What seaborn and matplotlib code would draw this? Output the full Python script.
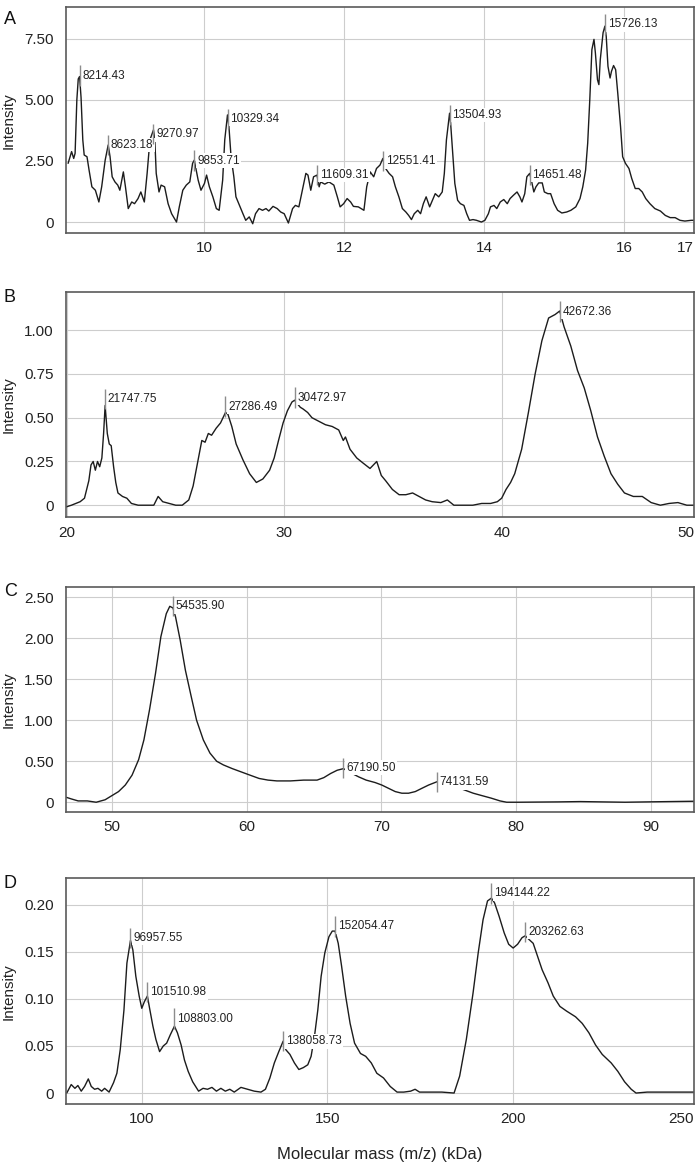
import matplotlib
matplotlib.use('Agg')
import matplotlib.pyplot as plt
import pandas as pd
import seaborn as sns

# ---- panel A : 8-17 kDa ----
A_mass = [8.05, 8.10, 8.13, 8.15, 8.175, 8.195, 8.214, 8.235, 8.26, 8.28,
          8.32, 8.35, 8.39, 8.44, 8.49, 8.53, 8.58, 8.623, 8.65, 8.68,
          8.72, 8.76, 8.79, 8.84, 8.87, 8.91, 8.96, 9.00, 9.05, 9.09,
          9.14, 9.18, 9.22, 9.271, 9.29, 9.31, 9.35, 9.38, 9.43, 9.48,
          9.53, 9.60, 9.64, 9.69, 9.74, 9.79, 9.83, 9.854, 9.91, 9.95,
          10.0, 10.03, 10.07, 10.12, 10.17, 10.21, 10.26, 10.29, 10.329, 10.35,
          10.38, 10.42, 10.45, 10.50, 10.55, 10.59, 10.64, 10.69, 10.73, 10.78,
          10.83, 10.88, 10.92, 10.98, 11.04, 11.09, 11.14, 11.20, 11.26, 11.30,
          11.35, 11.40, 11.45, 11.48, 11.52, 11.56, 11.609, 11.64, 11.66, 11.72,
          11.78, 11.85, 11.90, 11.94, 11.99, 12.04, 12.09, 12.13, 12.20, 12.28,
          12.32, 12.37, 12.42, 12.46, 12.51, 12.551, 12.59, 12.64, 12.69, 12.73,
          12.78, 12.83, 12.88, 12.92, 12.96, 13.00, 13.05, 13.09, 13.13, 13.17,
          13.22, 13.27, 13.30, 13.35, 13.40, 13.43, 13.46, 13.505, 13.52, 13.55,
          13.58, 13.62, 13.66, 13.71, 13.75, 13.79, 13.84, 13.89, 13.96, 14.01,
          14.06, 14.09, 14.14, 14.18, 14.23, 14.28, 14.33, 14.37, 14.42, 14.47,
          14.51, 14.54, 14.58, 14.61, 14.651, 14.68, 14.71, 14.74, 14.78, 14.83,
          14.86, 14.91, 14.95, 15.00, 15.05, 15.11, 15.18, 15.24, 15.31, 15.37,
          15.41, 15.45, 15.48, 15.51, 15.54, 15.57, 15.59, 15.62, 15.64, 15.66,
          15.70, 15.726, 15.745, 15.77, 15.80, 15.82, 15.85, 15.88, 15.91, 15.95,
          15.98, 16.02, 16.07, 16.11, 16.16, 16.21, 16.26, 16.31, 16.37, 16.44,
          16.52, 16.59, 16.66, 16.73, 16.80, 16.87, 16.96, 17.0]
A_int = [2.40, 2.88, 2.60, 2.81, 5.00, 5.85, 5.95, 5.10, 3.36, 2.74,
         2.67, 2.12, 1.44, 1.30, 0.82, 1.44, 2.53, 3.15, 2.67, 1.85,
         1.64, 1.51, 1.30, 2.05, 1.44, 0.55, 0.82, 0.75, 0.96, 1.23,
         0.82, 1.99, 3.36, 3.77, 3.36, 1.99, 1.23, 1.51, 1.44, 0.75,
         0.34, 0.00, 0.62, 1.30, 1.51, 1.64, 2.40, 2.53, 1.71, 1.30,
         1.58, 1.92, 1.44, 1.03, 0.55, 0.48, 1.71, 3.36, 4.38, 3.90,
         2.67, 1.85, 1.03, 0.68, 0.34, 0.07, 0.21, -0.07, 0.34, 0.55,
         0.48, 0.55, 0.45, 0.64, 0.55, 0.41, 0.34, -0.04, 0.55, 0.68,
         0.62, 1.30, 1.99, 1.92, 1.30, 1.85, 1.92, 1.44, 1.64, 1.55,
         1.64, 1.51, 1.03, 0.62, 0.75, 0.96, 0.82, 0.64, 0.62, 0.48,
         1.44, 2.05, 1.85, 2.19, 2.33, 2.60, 2.19, 1.99, 1.85, 1.44,
         1.03, 0.55, 0.41, 0.27, 0.10, 0.34, 0.48, 0.34, 0.75, 1.03,
         0.62, 0.96, 1.16, 1.03, 1.23, 1.99, 3.36, 4.45, 4.04, 2.81,
         1.58, 0.89, 0.75, 0.68, 0.34, 0.07, 0.10, 0.07, 0.00, 0.07,
         0.34, 0.62, 0.68, 0.55, 0.82, 0.92, 0.75, 0.96, 1.10, 1.23,
         1.03, 0.82, 1.16, 1.85, 1.99, 1.64, 1.23, 1.44, 1.60, 1.60,
         1.23, 1.16, 1.16, 0.75, 0.48, 0.37, 0.41, 0.48, 0.62, 0.96,
         1.44, 2.12, 3.22, 5.00, 7.05, 7.47, 6.92, 5.82, 5.62, 6.64,
         7.74, 8.01, 7.60, 6.37, 5.89, 6.16, 6.40, 6.23, 5.27, 3.90,
         2.67, 2.40, 2.19, 1.78, 1.37, 1.37, 1.23, 0.96, 0.75, 0.55,
         0.45, 0.27, 0.18, 0.18, 0.07, 0.04, 0.07, 0.07]
A_peaks = [8214.43, 8623.18, 9270.97, 9853.71, 10329.34, 11609.31, 12551.41, 13504.93, 14651.48, 15726.13]
A_label_y = [5.99, 3.15, 3.59, 2.51, 4.22, 1.92, 2.49, 4.38, 1.92, 8.08]
A_xticks = [10, 12, 14, 16]
A_xticklabels = ['10', '12', '14', '16', '17']
A_yticks = [0, 2.5, 5, 7.5]
A_yticklabels = ['0', '2.50', '5.00', '7.50']

# ---- panel B : 20-50 kDa ----
B_mass = [19.95, 20.2, 20.4, 20.6, 20.8, 20.9, 21.0, 21.1, 21.2, 21.3,
          21.4, 21.5, 21.6, 21.68, 21.75, 21.85, 21.94, 22.03, 22.14, 22.24,
          22.34, 22.55, 22.75, 22.96, 23.27, 23.68, 23.99, 24.19, 24.4, 24.7,
          25.0, 25.3, 25.6, 25.8, 26.0, 26.2, 26.35, 26.5, 26.65, 26.86,
          27.06, 27.29, 27.4, 27.58, 27.78, 28.09, 28.4, 28.71, 29.01, 29.32,
          29.53, 29.73, 29.94, 30.14, 30.35, 30.47, 30.6, 30.73, 30.86, 31.07,
          31.27, 31.58, 31.89, 32.2, 32.5, 32.71, 32.81, 33.02, 33.33, 33.63,
          33.94, 34.25, 34.46, 34.66, 34.97, 35.28, 35.59, 35.9, 36.2, 36.5,
          36.8, 37.2, 37.5, 37.8, 38.25, 38.67, 39.08, 39.49, 39.8, 40.0,
          40.2, 40.41, 40.6, 40.92, 41.23, 41.54, 41.85, 42.16, 42.46, 42.67,
          42.87, 43.18, 43.49, 43.8, 44.1, 44.41, 44.72, 45.03, 45.34, 45.65,
          46.06, 46.47, 46.88, 47.3, 47.7, 48.11, 48.52, 48.85]
B_int = [-0.01, 0.0, 0.01, 0.02, 0.04, 0.09, 0.14, 0.23, 0.25, 0.20,
         0.25, 0.22, 0.27, 0.41, 0.57, 0.41, 0.35, 0.34, 0.22, 0.13,
         0.07, 0.05, 0.04, 0.01, 0.0, 0.0, 0.0, 0.05, 0.02, 0.01,
         0.0, 0.0, 0.03, 0.11, 0.24, 0.37, 0.36, 0.41, 0.40, 0.44,
         0.47, 0.53, 0.52, 0.45, 0.35, 0.26, 0.18, 0.13, 0.15, 0.20,
         0.27, 0.37, 0.47, 0.54, 0.59, 0.60, 0.58, 0.56, 0.55, 0.53,
         0.50, 0.48, 0.46, 0.45, 0.43, 0.37, 0.39, 0.32, 0.27, 0.24,
         0.21, 0.25, 0.17, 0.14, 0.09, 0.06, 0.06, 0.07, 0.05, 0.03,
         0.02, 0.015, 0.03, 0.0, 0.0, 0.0, 0.01, 0.01, 0.02, 0.04,
         0.09, 0.13, 0.18, 0.32, 0.53, 0.75, 0.94, 1.07, 1.09, 1.11,
         1.02, 0.91, 0.77, 0.67, 0.54, 0.39, 0.28, 0.18, 0.12, 0.07,
         0.05, 0.05, 0.015, 0.0, 0.01, 0.015, 0.0, 0.0]
B_peaks = [21747.75, 27286.49, 30472.97, 42672.36]
B_label_y = [0.606, 0.564, 0.615, 1.107]
B_xticks = [20, 30, 40]
B_xticklabels = ['20', '30', '40', '50']
B_yticks = [0, 0.25, 0.5, 0.75, 1.0]
B_yticklabels = ['0', '0.25', '0.50', '0.75', '1.00']

# ---- panel C : 47-93 kDa ----
C_mass = [46.62, 47.0, 47.5, 48.18, 48.84, 49.5, 50.0, 50.5, 51.0, 51.5,
          51.99, 52.38, 52.8, 53.24, 53.64, 54.04, 54.3, 54.54, 54.73, 55.07,
          55.46, 55.89, 56.29, 56.79, 57.28, 57.78, 58.28, 58.94, 59.6, 60.26,
          60.93, 61.59, 62.25, 63.25, 64.24, 65.23, 65.73, 66.23, 66.72, 67.19,
          67.6, 68.31, 68.87, 69.54, 70.03, 70.53, 71.03, 71.52, 72.02, 72.52,
          73.01, 73.51, 74.13, 74.8, 75.5, 76.16, 76.82, 77.48, 78.15, 78.81,
          79.3, 80.13, 83.1, 84.77, 86.4, 88.08, 89.7, 91.4, 93.2]
C_int = [0.06, 0.04, 0.016, 0.016, 0.0, 0.03, 0.08, 0.13, 0.21, 0.33,
         0.52, 0.76, 1.13, 1.57, 2.02, 2.30, 2.39, 2.37, 2.26, 1.98,
         1.61, 1.29, 1.00, 0.76, 0.60, 0.50, 0.455, 0.41, 0.37, 0.33,
         0.29, 0.27, 0.26, 0.26, 0.27, 0.27, 0.30, 0.35, 0.39, 0.41,
         0.37, 0.31, 0.27, 0.24, 0.21, 0.17, 0.13, 0.11, 0.11, 0.13,
         0.17, 0.21, 0.25, 0.22, 0.19, 0.15, 0.11, 0.08, 0.05, 0.016,
         0.0, 0.0, 0.004, 0.008, 0.004, 0.0, 0.004, 0.008, 0.012]
C_peaks = [54535.90, 67190.50, 74131.59]
C_label_y = [2.39, 0.42, 0.244]
C_xticks = [50, 60, 70, 80, 90]
C_xticklabels = ['50', '60', '70', '80', '90']
C_yticks = [0, 0.5, 1.0, 1.5, 2.0, 2.5]
C_yticklabels = ['0', '0.50', '1.00', '1.50', '2.00', '2.50']

# ---- panel D : 80-250 kDa ----
D_mass = [79.8, 81.0, 82.0, 82.8, 83.7, 84.6, 85.6, 86.4, 87.3, 88.2,
          89.2, 90.0, 91.2, 92.4, 93.3, 94.2, 95.2, 96.0, 96.96, 97.6,
          98.4, 99.3, 100.0, 100.7, 101.51, 102.2, 103.0, 103.8, 104.8, 105.8,
          106.7, 107.7, 108.8, 109.6, 110.6, 111.5, 112.5, 113.7, 115.3, 116.5,
          117.7, 118.9, 120.1, 121.3, 122.5, 123.7, 124.9, 126.7, 128.5, 130.3,
          132.1, 133.3, 134.5, 135.7, 136.9, 138.06, 138.8, 139.9, 141.1, 142.3,
          143.5, 144.7, 145.6, 146.5, 147.4, 148.3, 149.3, 150.4, 151.3, 152.05,
          152.9, 153.8, 154.9, 156.1, 157.3, 158.9, 160.3, 161.8, 163.3, 165.1,
          166.9, 168.75, 170.55, 172.4, 173.6, 174.8, 177.2, 180.8, 184.1, 185.6,
          187.4, 189.2, 190.6, 191.9, 193.1, 194.14, 195.0, 196.2, 197.6, 198.8,
          200.0, 201.2, 202.4, 203.26, 204.3, 205.4, 206.6, 207.8, 209.4, 210.8,
          212.6, 214.4, 216.8, 218.6, 220.4, 222.2, 224.0, 226.4, 228.2, 230.0,
          231.8, 233.1, 236.1, 239.7, 244.5, 248.7]
D_int = [0.0, 0.009, 0.005, 0.008, 0.002, 0.007, 0.015, 0.007, 0.004, 0.005,
         0.002, 0.005, 0.001, 0.011, 0.021, 0.046, 0.088, 0.138, 0.162, 0.152,
         0.124, 0.103, 0.090, 0.097, 0.103, 0.088, 0.071, 0.057, 0.044, 0.050,
         0.053, 0.062, 0.071, 0.064, 0.051, 0.035, 0.023, 0.012, 0.002, 0.005,
         0.004, 0.006, 0.002, 0.005, 0.002, 0.004, 0.001, 0.006, 0.004, 0.002,
         0.001, 0.004, 0.016, 0.032, 0.044, 0.055, 0.046, 0.041, 0.032, 0.025,
         0.027, 0.030, 0.039, 0.060, 0.088, 0.124, 0.149, 0.166, 0.172, 0.172,
         0.159, 0.135, 0.103, 0.074, 0.053, 0.042, 0.039, 0.032, 0.021, 0.016,
         0.007, 0.001, 0.001, 0.002, 0.004, 0.001, 0.001, 0.001, 0.0, 0.018,
         0.057, 0.106, 0.149, 0.184, 0.204, 0.207, 0.202, 0.188, 0.170, 0.158,
         0.154, 0.158, 0.165, 0.167, 0.163, 0.159, 0.145, 0.131, 0.117, 0.103,
         0.092, 0.087, 0.081, 0.074, 0.064, 0.051, 0.041, 0.032, 0.023, 0.012,
         0.004, 0.0, 0.001, 0.001, 0.001, 0.001]
D_peaks = [96957.55, 101510.98, 108803.00, 138058.73, 152054.47, 194144.22, 203262.63]
D_label_y = [0.165, 0.107, 0.079, 0.055, 0.177, 0.212, 0.171]
D_xticks = [100, 150, 200]
D_xticklabels = ['100', '150', '200', '250']
D_yticks = [0, 0.05, 0.10, 0.15, 0.20]
D_yticklabels = ['0', '0.05', '0.10', '0.15', '0.20']


def draw_panel(ax, letter, mass, intensity, peaks, label_y, xlim, ylim,
               xticks, xticklabels, yticks, yticklabels, letter_y):
    df = pd.DataFrame({'mass': mass, 'intensity': intensity})
    sns.lineplot(data=df, x='mass', y='intensity', ax=ax, color='#1c1c1c',
                 lw=1.0, sort=False, estimator=None, zorder=2)
    ax.set_xlim(xlim)
    ax.set_ylim(ylim)

    # the last label sits at the right border (as in the software export)
    ticks = list(xticks)
    if len(xticklabels) > len(xticks):
        ticks.append(xlim[1])
    ax.set_xticks(ticks)
    ax.set_xticklabels(xticklabels)
    if len(xticklabels) > len(xticks):
        ax.get_xticklabels()[-1].set_horizontalalignment('right')
    ax.set_yticks(yticks)
    ax.set_yticklabels(yticklabels)
    ax.tick_params(axis='both', length=0, labelsize=11, colors='#222222')
    ax.tick_params(axis='y', pad=9)
    ax.tick_params(axis='x', pad=6)

    ax.set_xlabel('')
    ax.set_ylabel('Intensity', fontsize=11, color='#222222')
    ax.yaxis.set_label_coords(-0.08, 0.5)
    for s in ax.spines.values():
        s.set_color('#5a5a5a')
        s.set_linewidth(1.2)

    # peak markers + mass labels (white box hides the trace behind the text)
    half = 0.045 * (ylim[1] - ylim[0])
    for p, yl in zip(peaks, label_y):
        x = p / 1000
        ax.vlines(x, yl - half, yl + half, color='#8c8c8c', lw=1.0, zorder=4)
        ax.annotate(f'{p:.2f}', xy=(x, yl), xytext=(2, 0), textcoords='offset points',
                    ha='left', va='center', fontsize=8.5, color='#222222', zorder=3,
                    bbox=dict(boxstyle='square,pad=0.12', fc='white', ec='none'))

    ax.text(-0.099, letter_y, letter, transform=ax.transAxes, ha='left', va='center',
            fontsize=13, color='#111111')


sns.set_style('whitegrid', {'grid.color': '#cdcdcd', 'axes.edgecolor': '#5a5a5a'})
plt.rcParams['font.family'] = ['Liberation Sans', 'DejaVu Sans']

fig = plt.figure(figsize=(7, 11.64), dpi=100)
left, width = 0.0943, 0.8971
axA = fig.add_axes([left, 0.7998, width, 0.1939])
axB = fig.add_axes([left, 0.5556, width, 0.1933])
axC = fig.add_axes([left, 0.3027, width, 0.1933])
axD = fig.add_axes([left, 0.0515, width, 0.1939])

draw_panel(axA, 'A', A_mass, A_int, A_peaks, A_label_y, (8.02, 17.0), (-0.45, 8.78),
           A_xticks, A_xticklabels, A_yticks, A_yticklabels, 0.944)
draw_panel(axB, 'B', B_mass, B_int, B_peaks, B_label_y, (19.95, 48.85), (-0.069, 1.217),
           B_xticks, B_xticklabels, B_yticks, B_yticklabels, 0.976)
draw_panel(axC, 'C', C_mass, C_int, C_peaks, C_label_y, (46.6, 93.2), (-0.115, 2.63),
           C_xticks, C_xticklabels, C_yticks, C_yticklabels, 0.977)
draw_panel(axD, 'D', D_mass, D_int, D_peaks, D_label_y, (79.6, 248.7), (-0.0117, 0.228),
           D_xticks, D_xticklabels, D_yticks, D_yticklabels, 0.977)

axD.set_xlabel('Molecular mass (m/z) (kDa)', fontsize=12, color='#222222')
axD.xaxis.set_label_coords(0.5, -0.19)

fig.savefig('out.png', dpi=100)
